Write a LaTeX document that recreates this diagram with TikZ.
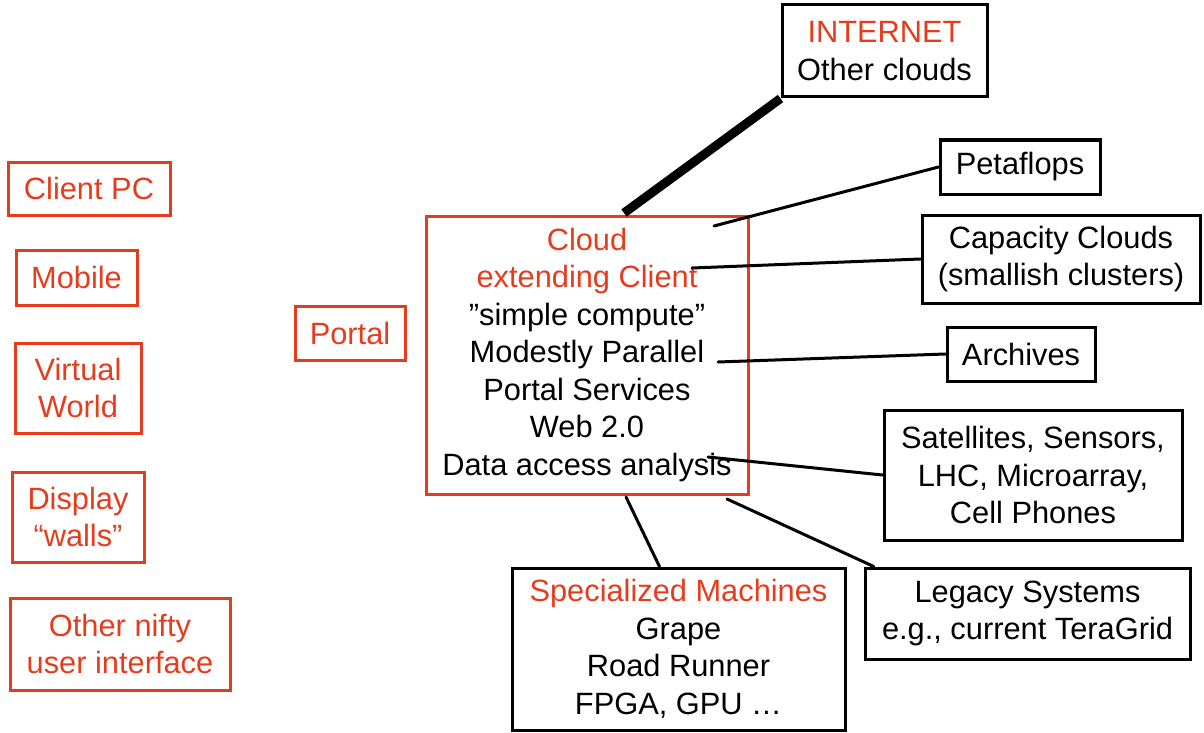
\documentclass[tikz,border=0pt]{standalone}
\usepackage{fontspec}
\setmainfont{Liberation Sans}
\definecolor{cred}{RGB}{230,60,30}
\begin{document}
\begin{tikzpicture}[x=1pt,y=-1pt,
  box/.style={draw, line width=3pt, inner sep=0pt, align=center, font=\fontsize{30.8}{37.5}\selectfont},
  rbox/.style={box, draw=cred, text=cred},
  kbox/.style={box, draw=black},
  link/.style={line width=3pt, line cap=round},
  thick link/.style={line width=9pt}]
\useasboundingbox (0,0) rectangle (1204,733);
% left column
\node[rbox, minimum width=162pt, minimum height=53pt] (pc) at (89,188.5) {Client PC};
\node[rbox, minimum width=121pt, minimum height=55pt] (mob) at (76.5,277.5) {Mobile};
\node[rbox, minimum width=126pt, minimum height=90pt] (vw) at (78,388) {Virtual\\World};
\node[rbox, minimum width=132pt, minimum height=90pt] (disp) at (78,517) {Display\\“walls”};
\node[rbox, minimum width=220pt, minimum height=92pt] (nifty) at (120,644) {Other nifty\\user interface};
\node[rbox, minimum width=110pt, minimum height=54pt] (portal) at (350,333) {Portal};
% central
\node[box, draw=cred, minimum width=322pt, minimum height=278pt] (cloud) at (587,355)
  {\textcolor{cred}{Cloud}\\\textcolor{cred}{extending Client}\\”simple compute”\\Modestly Parallel\\Portal Services\\Web 2.0\\Data access analysis};
% right side
\node[kbox, minimum width=205pt, minimum height=92pt] (inet) at (884.5,51) {\textcolor{cred}{INTERNET}\\Other clouds};
\node[kbox, minimum width=160pt, minimum height=54pt] (peta) at (1020,167) {Petaflops};
\node[kbox, minimum width=278pt, minimum height=88pt] (cap) at (1061,259) {Capacity Clouds\\(smallish clusters)};
\node[kbox, minimum width=148pt, minimum height=54pt] (arch) at (1021,354) {Archives};
\node[kbox, minimum width=298pt, minimum height=130pt] (sat) at (1033,475) {Satellites, Sensors,\\LHC, Microarray,\\Cell Phones};
\node[kbox, minimum width=325pt, minimum height=91pt] (leg) at (1027.5,613.5) {Legacy Systems\\e.g., current TeraGrid};
\node[kbox, minimum width=333pt, minimum height=162pt] (spec) at (678.5,649) {\textcolor{cred}{Specialized Machines}\\Grape\\Road Runner\\FPGA, GPU …};
% connector start points
\coordinate (sI) at (624,213);
\coordinate (sP) at (714,226);
\coordinate (sC) at (692,268);
\coordinate (sA) at (718,362);
\coordinate (sS) at (708,457);
\coordinate (sM) at (626,497);
\coordinate (sL) at (727,499);
\draw[thick link] (sI) -- (inet.south west);
\draw[link] (sP) -- (peta.west);
\draw[link] (sC) -- (cap.west);
\draw[link] (sA) -- (arch.west);
\draw[link] (sS) -- (sat.west);
\draw[link] (sM) -- (spec.103);
\draw[link] (sL) -- (leg.163);
\end{tikzpicture}
\end{document}
